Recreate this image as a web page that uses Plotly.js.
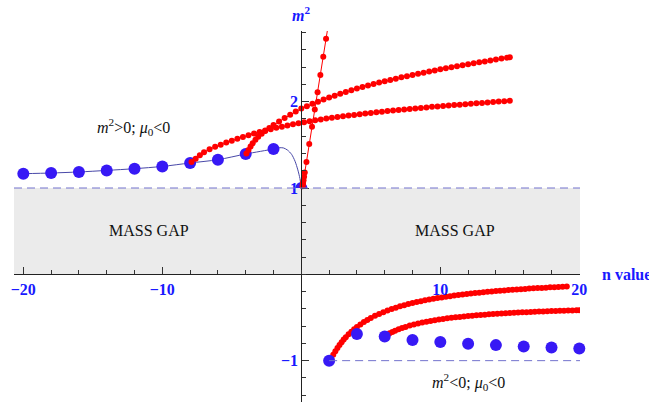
<!DOCTYPE html>
<html><head><meta charset="utf-8">
<script src="https://cdn.plot.ly/plotly-3.0.1.min.js"></script>
<style>html,body{margin:0;padding:0;background:#fff}#chart{width:649px;height:402px}</style>
</head><body><div id="chart"></div>
<script>
// ---- data ----
const blueCurveX = [-20,-18,-16,-14,-12,-10,-8,-6,-4,-2,-1.6,-1.3,-1.0,-0.7,-0.45,-0.25,-0.1,0];
const blueCurveY = [1.166,1.174,1.186,1.204,1.224,1.25,1.29,1.328,1.394,1.452,1.466,1.465,1.44,1.39,1.31,1.21,1.11,1.0];
const blueLeftX = [-20,-18,-16,-14,-12,-10,-8,-6,-4,-2,0];
const blueLeftY = [1.166,1.174,1.186,1.204,1.224,1.25,1.29,1.328,1.394,1.452,1.0];
const blueRightX = [2,4,6,8,10,12,14,16,18,20];
const blueRightY = [-1.0,-0.69,-0.72,-0.76,-0.785,-0.805,-0.82,-0.835,-0.848,-0.86];

const redSteepX = [0.09,0.11,0.13,0.16,0.2,0.25,0.37,0.57,0.77,0.97,1.17,1.37,1.58,1.78,1.99];
const redSteepY = [1.02,1.04,1.06,1.09,1.13,1.18,1.30,1.51,1.71,1.91,2.11,2.31,2.52,2.73,2.94];

const redAX = [-7.9,-7.6,-7.3,-7.0,-6.6,-6.2,-5.8,-5.4,-5.0,-4.6,-4.2,-3.8,-3.4,-3.0,-2.6,-2.2,-1.8,-1.4,-1.0,-0.6,-0.2,0.2,0.6,1.0,1.4,1.8,2.2,2.6,3.0,3.4,3.8,4.2,4.6,5.0,5.4,5.8,6.2,6.6,7.0,7.4,7.8,8.2,8.6,9.0,9.4,9.8,10.2,10.6,11.0,11.4,11.8,12.2,12.6,13.0,13.4,13.8,14.2,14.6,15.0];
const redAY = [1.30,1.34,1.38,1.415,1.45,1.477,1.502,1.526,1.549,1.571,1.592,1.612,1.631,1.649,1.666,1.682,1.697,1.711,1.725,1.738,1.75,1.762,1.773,1.784,1.794,1.804,1.813,1.822,1.831,1.839,1.847,1.855,1.863,1.870,1.877,1.884,1.891,1.898,1.904,1.910,1.916,1.922,1.928,1.934,1.940,1.945,1.951,1.956,1.961,1.966,1.971,1.976,1.981,1.986,1.991,1.996,2.001,2.006,2.011];

const redBX = [-3.95,-3.8,-3.65,-3.5,-3.3,-3.1,-2.85,-2.6,-2.3,-2.0,-1.6,-1.2,-0.8,-0.4,0.0,0.4,0.8,1.2,1.6,2.0,2.4,2.8,3.2,3.6,4.0,4.4,4.8,5.2,5.6,6.0,6.4,6.8,7.2,7.6,8.0,8.4,8.8,9.2,9.6,10.0,10.4,10.8,11.2,11.6,12.0,12.4,12.8,13.2,13.6,14.0,14.4,14.8,15.0];
const redBY = [1.40,1.44,1.48,1.52,1.56,1.595,1.63,1.66,1.695,1.73,1.77,1.81,1.85,1.885,1.92,1.948,1.975,2.0,2.025,2.048,2.07,2.092,2.113,2.133,2.152,2.17,2.188,2.205,2.221,2.237,2.252,2.267,2.282,2.296,2.31,2.323,2.336,2.349,2.362,2.375,2.387,2.399,2.411,2.423,2.434,2.445,2.456,2.467,2.478,2.489,2.499,2.509,2.514];

const redCX = [2.15,2.3,2.45,2.6,2.75,2.9,3.05,3.2,3.4,3.6,3.8,4.0,4.25,4.5,4.75,5.0,5.3,5.6,5.9,6.2,6.5,6.8,7.1,7.4,7.7,8.0,8.3,8.6,8.9,9.2,9.5,9.8,10.1,10.4,10.7,11.0,11.3,11.6,11.9,12.2,12.5,12.8,13.1,13.4,13.7,14.0,14.3,14.6,14.9,15.2,15.5,15.8,16.1,16.4,16.7,17.0,17.3,17.6,17.9,18.2,18.5,18.8,19.1];
const redCY = [-0.977,-0.931,-0.890,-0.853,-0.818,-0.786,-0.756,-0.729,-0.695,-0.664,-0.636,-0.610,-0.580,-0.553,-0.529,-0.506,-0.481,-0.459,-0.438,-0.419,-0.402,-0.386,-0.371,-0.357,-0.345,-0.333,-0.321,-0.311,-0.301,-0.292,-0.283,-0.275,-0.267,-0.260,-0.253,-0.246,-0.240,-0.234,-0.228,-0.222,-0.217,-0.212,-0.207,-0.203,-0.198,-0.194,-0.190,-0.186,-0.182,-0.179,-0.175,-0.172,-0.169,-0.165,-0.162,-0.159,-0.157,-0.154,-0.151,-0.149,-0.146,-0.144,-0.141];

const redDX = [6.35,6.55,6.75,7.0,7.25,7.5,7.8,8.1,8.4,8.7,9.0,9.3,9.6,9.9,10.2,10.5,10.8,11.1,11.4,11.7,12.0,12.3,12.6,12.9,13.2,13.5,13.8,14.1,14.4,14.7,15.0,15.3,15.6,15.9,16.2,16.5,16.8,17.1,17.4,17.7,18.0,18.3,18.6,18.9,19.2,19.5,19.8,20.0];
const redDY = [-0.682,-0.667,-0.653,-0.637,-0.622,-0.609,-0.594,-0.581,-0.570,-0.559,-0.549,-0.540,-0.532,-0.524,-0.517,-0.510,-0.504,-0.498,-0.493,-0.488,-0.483,-0.479,-0.475,-0.471,-0.467,-0.463,-0.460,-0.457,-0.454,-0.451,-0.448,-0.445,-0.443,-0.440,-0.438,-0.436,-0.434,-0.432,-0.430,-0.428,-0.426,-0.424,-0.422,-0.421,-0.419,-0.418,-0.416,-0.415];

const gapX = [-20.67, 20.05];
const gapY = [0, 1];
const xTicks = [-20, -10, 10, 20];
const yTicks = [-1, 1, 2];

// ---- styles ----
const BLUE = 'rgb(55,25,245)';
const LBL = 'rgb(25,25,255)';
const RED = '#ff0000';
const SERIF = 'Liberation Serif, Times New Roman, serif';
const xRange = [-20.67, 20.05];
const yRange = [-1.479, 2.819];

function redTrace(x, y) {
  return {x, y, mode: 'lines+markers', line: {color: RED, width: 1},
          marker: {color: RED, size: 6}, hoverinfo: 'skip'};
}

const traces = [
  {x: blueCurveX, y: blueCurveY, mode: 'lines', line: {color: '#4848a8', width: 1, shape: 'spline', smoothing: 0.8}, hoverinfo: 'skip'},
  {x: blueLeftX, y: blueLeftY, mode: 'markers', marker: {color: BLUE, size: 12}, cliponaxis: false, hoverinfo: 'skip'},
  {x: [gapX[0], gapX[1], gapX[1], gapX[0]], y: [gapY[0], gapY[0], gapY[1], gapY[1]], mode: 'lines', fill: 'toself',
   fillcolor: '#ebebeb', line: {color: '#ebebeb', width: 0}, hoverinfo: 'skip'},
  redTrace(redAX, redAY),
  redTrace(redBX, redBY),
  redTrace(redSteepX, redSteepY),
  redTrace(redCX, redCY),
  redTrace(redDX, redDY),
  {x: blueRightX, y: blueRightY, mode: 'markers', marker: {color: BLUE, size: 12}, cliponaxis: false, hoverinfo: 'skip'}
];

const xPos = (0 - yRange[0]) / (yRange[1] - yRange[0]);
const yPos = (0 - xRange[0]) / (xRange[1] - xRange[0]);

const layout = {
  width: 649, height: 402,
  margin: {l: 14, r: 69, t: 31, b: 0, pad: 0},
  paper_bgcolor: '#fff', plot_bgcolor: 'rgba(0,0,0,0)',
  showlegend: false,
  xaxis: {
    range: xRange, anchor: 'free', position: xPos, automargin: false,
    showgrid: false, zeroline: false, showline: true, linecolor: '#222', linewidth: 1,
    tickmode: 'array', tickvals: xTicks, ticks: 'inside', ticklen: 7, tickcolor: '#333',
    tickfont: {family: SERIF, size: 16, color: LBL, weight: 'bold'},
    minor: {ticks: 'inside', ticklen: 4, tickcolor: '#333', tickmode: 'linear', tick0: 0, dtick: 2}
  },
  yaxis: {
    range: yRange, anchor: 'free', position: yPos, automargin: false,
    showgrid: false, zeroline: false, showline: true, linecolor: '#222', linewidth: 1,
    tickmode: 'array', tickvals: yTicks, ticks: 'inside', ticklen: 7, tickcolor: '#333',
    tickfont: {family: SERIF, size: 16, color: LBL, weight: 'bold'},
    minor: {ticks: 'inside', ticklen: 4, tickcolor: '#333', tickmode: 'linear', tick0: 0, dtick: 0.2}
  },
  shapes: [
    {type: 'line', xref: 'x', yref: 'y', x0: gapX[0], x1: gapX[1], y0: 1, y1: 1, layer: 'above',
     line: {color: 'rgb(115,115,205)', width: 1, dash: '8px,5px'}},
    {type: 'line', xref: 'x', yref: 'y', x0: blueRightX[0], x1: gapX[1], y0: -1, y1: -1, layer: 'above',
     line: {color: 'rgb(115,115,205)', width: 1, dash: '8px,5px'}}
  ],
  annotations: [
    {xref: 'x', yref: 'y', x: -12.04, y: 1.703, showarrow: false,
     text: '<i>m</i><sup>2</sup>&gt;0; <i>μ</i><sub>0</sub>&lt;0', font: {family: SERIF, size: 16, color: '#111'}},
    {xref: 'x', yref: 'y', x: 12.0, y: -1.25, showarrow: false,
     text: '<i>m</i><sup>2</sup>&lt;0; <i>μ</i><sub>0</sub>&lt;0', font: {family: SERIF, size: 16, color: '#111'}},
    {xref: 'x', yref: 'y', x: -10.98, y: 0.505, showarrow: false,
     text: 'MASS GAP', font: {family: SERIF, size: 16, color: '#111'}},
    {xref: 'x', yref: 'y', x: 11.04, y: 0.505, showarrow: false,
     text: 'MASS GAP', font: {family: SERIF, size: 16, color: '#111'}},
    {xref: 'x', yref: 'paper', x: 0, y: 1.045, yanchor: 'middle', showarrow: false,
     text: '<b><i>m</i><sup>2</sup></b>', font: {family: SERIF, size: 16, color: LBL}},
    {xref: 'paper', yref: 'y', x: 1.036, xanchor: 'left', y: 0.0, yanchor: 'middle', showarrow: false,
     text: '<b>n value</b>', font: {family: SERIF, size: 16, color: LBL}}
  ]
};

Plotly.newPlot('chart', traces, layout, {displayModeBar: false, staticPlot: true});
</script></body></html>
